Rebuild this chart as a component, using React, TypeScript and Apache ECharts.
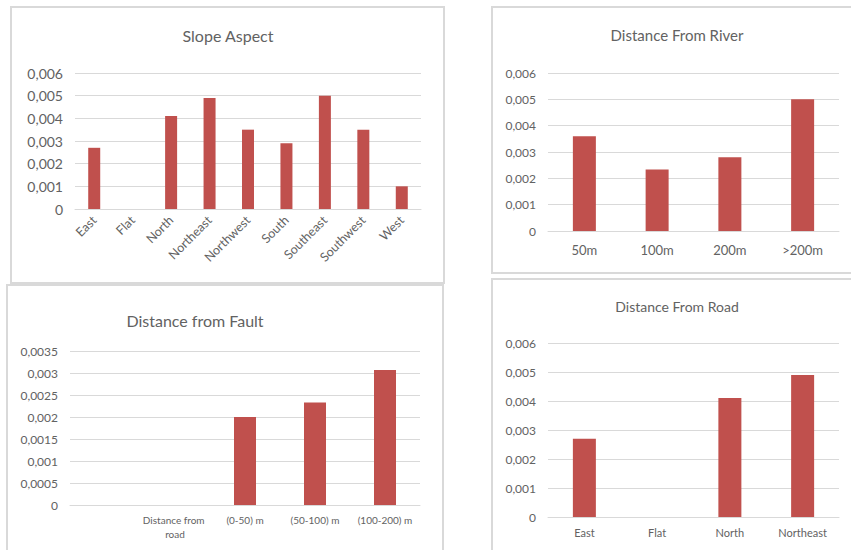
import React, { useEffect, useRef } from "react";
import * as echarts from "echarts";

const slopeCategories = ["East", "Flat", "North", "Northeast", "Northwest", "South", "Southeast", "Southwest", "West"];
const slopeValues = [0.0027, 0, 0.0041, 0.0049, 0.0035, 0.0029, 0.005, 0.0035, 0.001];

const riverCategories = ["50m", "100m", "200m", ">200m"];
const riverValues = [0.0036, 0.00234, 0.0028, 0.005];

const faultCategories = ["", "Distance from road", "(0-50) m", "(50-100) m", "(100-200) m"];
const faultValues = [0, 0, 0.002, 0.00233, 0.00307];

const roadCategories = ["East", "Flat", "North", "Northeast"];
const roadValues = [0.0027, 0, 0.0041, 0.0049];

const FONT = "Lato, 'Liberation Sans', sans-serif";
const TXT = "#626262";
const GRID = "#D9D9D9";
const BAR = "#C0504D";

const fmt = (v: number) => (v === 0 ? "0" : String(+v.toFixed(6)).replace(".", ","));

export default function App() {
  const ref = useRef<HTMLDivElement>(null);
  useEffect(() => {
    if (!ref.current) return;
    const chart = echarts.init(ref.current, null, { renderer: "svg" });

    const grids = [
      { left: 75, top: 73, width: 346, height: 136 },
      { left: 548, top: 73, width: 291, height: 158 },
      { left: 70, top: 351, width: 350, height: 154 },
      { left: 548, top: 343, width: 291, height: 174 },
    ];
    const cats = [slopeCategories, riverCategories, faultCategories, roadCategories];
    const vals = [slopeValues, riverValues, faultValues, roadValues];
    const yMax = [0.006, 0.006, 0.0035, 0.006];
    const yInt = [0.001, 0.001, 0.0005, 0.001];
    const yFont = [14, 12, 12, 12];
    const xFont = [12.5, 13, 10, 11];
    const xMargin = [9, 12, 8, 10];
    const barW = [12, 23, 22, 23];

    const titles = [
      { text: "Slope Aspect", x: 228, y: 35, size: 16 },
      { text: "Distance From River", x: 677, y: 35, size: 15 },
      { text: "Distance from Fault", x: 195, y: 320, size: 16 },
      { text: "Distance From Road", x: 677, y: 306, size: 14 },
    ];

    const option: any = {
      animation: false,
      backgroundColor: "#ffffff",
      title: titles.map((t) => ({
        text: t.text,
        left: t.x,
        top: t.y,
        textAlign: "center",
        textVerticalAlign: "middle",
        padding: 0,
        textStyle: { fontFamily: FONT, fontSize: t.size, fontWeight: "normal", color: TXT },
      })),
      grid: grids.map((g) => ({ ...g, containLabel: false })),
      xAxis: cats.map((c, i) => ({
        type: "category",
        gridIndex: i,
        data: c,
        axisLine: { show: true, lineStyle: { color: GRID, width: 1 } },
        axisTick: { show: false },
        axisLabel: {
          interval: 0,
          color: TXT,
          fontFamily: FONT,
          fontSize: xFont[i],
          margin: xMargin[i],
          rotate: i === 0 ? 45 : 0,
          width: i === 2 ? 66 : undefined,
          overflow: i === 2 ? "break" : undefined,
          lineHeight: i === 2 ? 14 : undefined,
        },
      })),
      yAxis: cats.map((_, i) => ({
        type: "value",
        gridIndex: i,
        min: 0,
        max: yMax[i],
        interval: yInt[i],
        axisLine: { show: false },
        axisTick: { show: false },
        splitLine: { show: true, lineStyle: { color: GRID, width: 1 } },
        axisLabel: {
          color: TXT,
          fontFamily: FONT,
          fontSize: yFont[i],
          margin: 12,
          formatter: fmt,
        },
      })),
      series: vals.map((v, i) => ({
        type: "bar",
        xAxisIndex: i,
        yAxisIndex: i,
        data: v,
        barWidth: barW[i],
        itemStyle: { color: BAR },
      })),
      graphic: [
        { type: "rect", shape: { x: 11, y: 7, width: 433, height: 276 }, style: { fill: "none", stroke: GRID, lineWidth: 2 }, z: -1 },
        { type: "rect", shape: { x: 492, y: 7, width: 380, height: 266 }, style: { fill: "none", stroke: GRID, lineWidth: 2 }, z: -1 },
        { type: "rect", shape: { x: 7, y: 285, width: 436, height: 290 }, style: { fill: "none", stroke: GRID, lineWidth: 2 }, z: -1 },
        { type: "rect", shape: { x: 492, y: 279, width: 380, height: 290 }, style: { fill: "none", stroke: GRID, lineWidth: 2 }, z: -1 },
      ],
    };
    chart.setOption(option);
    return () => chart.dispose();
  }, []);

  return (
    <div style={{ position: "absolute", left: 0, top: 0, width: 851, height: 550, background: "#fff" }}>
      <div ref={ref} style={{ width: 851, height: 550 }} />
    </div>
  );
}
